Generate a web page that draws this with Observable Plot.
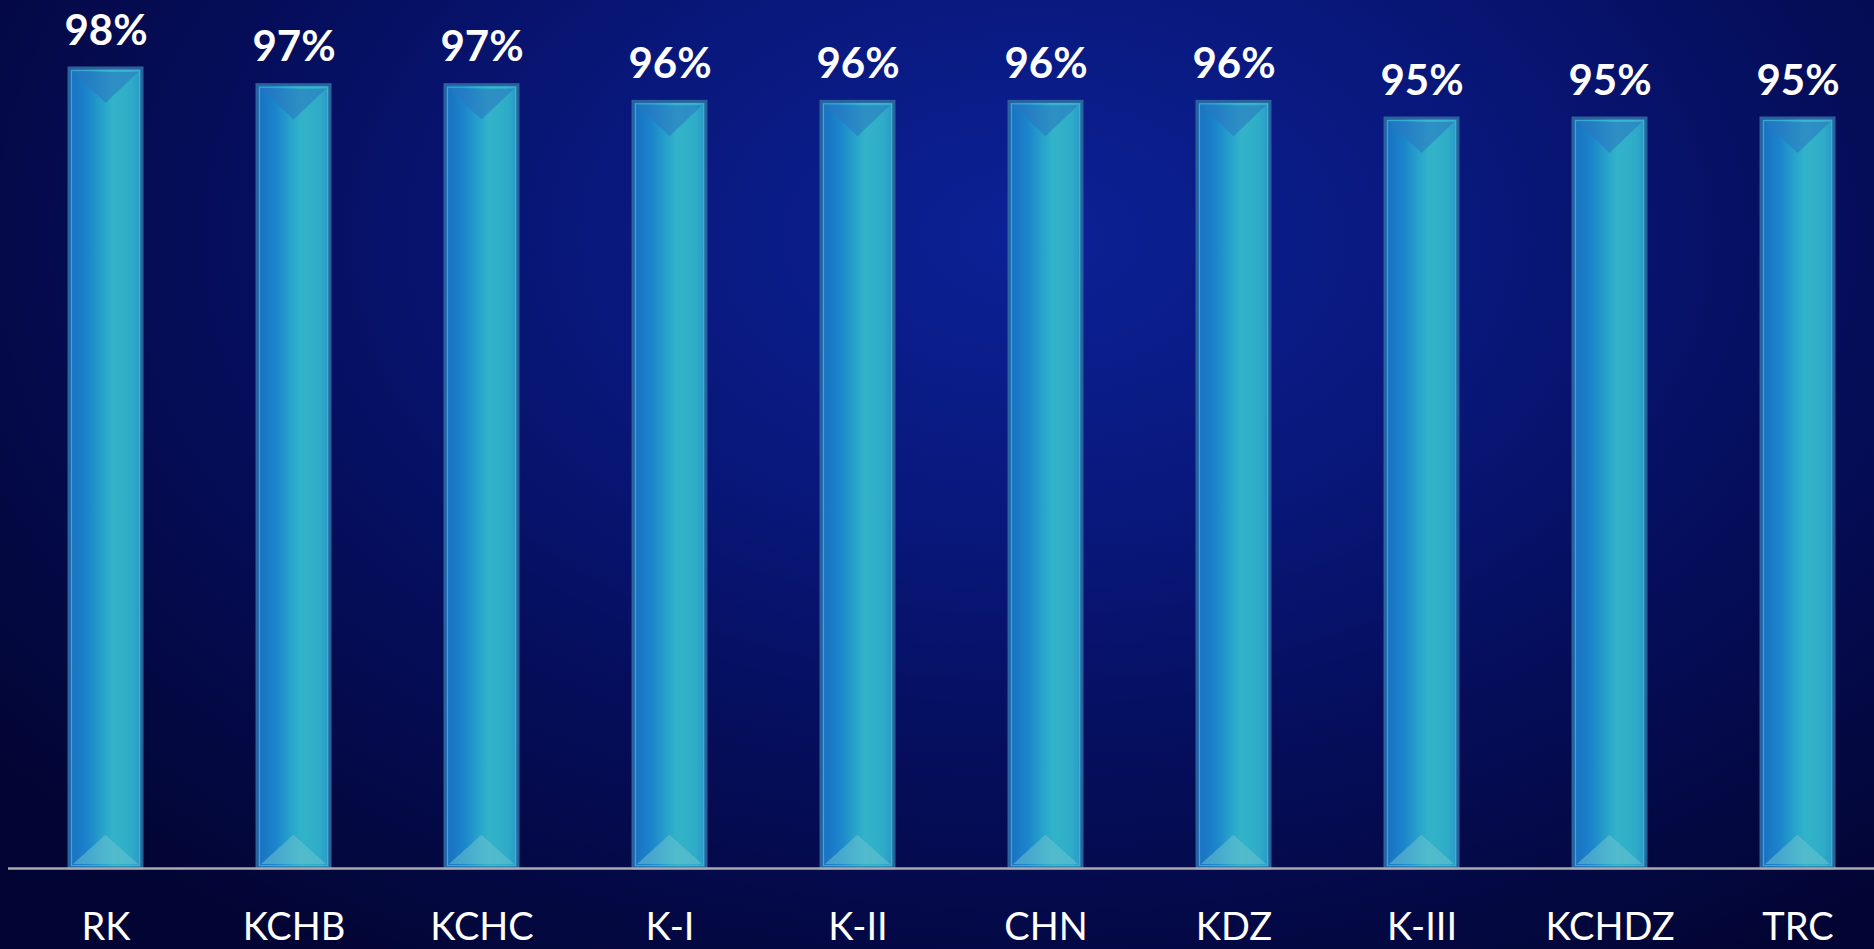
<!DOCTYPE html>
<html>
<head>
<meta charset="utf-8">
<script src="https://cdn.jsdelivr.net/npm/d3@7"></script>
<script src="https://cdn.jsdelivr.net/npm/@observablehq/plot@0.6"></script>
<style>
  html, body { margin: 0; padding: 0; background: #02052e; overflow: hidden; }
  #chart svg { display: block; }
</style>
</head>
<body>
<div id="chart"></div>
<script>
const categories = ["RK", "KCHB", "KCHC", "K-I", "K-II", "CHN", "KDZ", "K-III", "KCHDZ", "TRC"];
const values = [98, 97, 97, 96, 96, 96, 96, 95, 95, 95];
const labels = ["98%", "97%", "97%", "96%", "96%", "96%", "96%", "95%", "95%", "95%"];
const yBase = 50;
const yTop = 102.08;

const data = categories.map((c, i) => ({cat: c, value: values[i], label: labels[i]}));

const W = 1874, H = 949;
const plot = Plot.plot({
  width: W,
  height: H,
  marginTop: 0,
  marginBottom: 81,
  marginLeft: 8,
  marginRight: 0,
  style: {
    background: "radial-gradient(ellipse 70% 90% at 55% 25%, #0c2196 0%, #08177a 35%, #050d58 65%, #020533 100%)",
    fontFamily: "Lato, 'Open Sans', sans-serif",
    color: "white"
  },
  x: {type: "band", domain: categories, range: [30, W], paddingInner: 0.61, paddingOuter: 0.194, label: null},
  y: {domain: [yBase, yTop], axis: null},
  marks: [
    Plot.barY(data, {x: "cat", y1: () => yBase, y2: "value", fill: "url(#barGrad)", stroke: "#2a629c", strokeWidth: 3}),
    Plot.ruleY([yBase], {stroke: "#a9a9b0", strokeWidth: 2.5}),
    Plot.text(data, {x: "cat", y: "value", text: "label", lineAnchor: "bottom", dy: -24, fill: "white", fontSize: 42, fontWeight: "bold"}),
    Plot.axisX({tickSize: 0, tickPadding: 45, fontSize: 38, fill: "white", label: null})
  ]
});

// gradient definitions
const svg = d3.select(plot);
const defs = svg.insert("defs", ":first-child");
const g = defs.append("linearGradient").attr("id", "barGrad").attr("x1", "0").attr("x2", "1").attr("y1", "0").attr("y2", "0");
[["0%", "#1a6fbf"], ["25%", "#1b84cc"], ["50%", "#2aa8cb"], ["60%", "#33b3c9"], ["85%", "#2fadc8"], ["100%", "#2a95c6"]]
  .forEach(([o, c]) => g.append("stop").attr("offset", o).attr("stop-color", c));

// bevel decoration derived from rendered bars
svg.selectAll("g[aria-label=bar] rect").each(function() {
  const r = d3.select(this);
  const x = +r.attr("x"), y = +r.attr("y"), w = +r.attr("width"), h = +r.attr("height");
  const parent = d3.select(this.parentNode);
  const inset = 4;
  const x0 = x + inset, x1 = x + w - inset, y0 = y + inset, y1 = y + h - inset, half = (x1 - x0) / 2;
  parent.append("polygon")
    .attr("points", `${x0},${y0} ${x1},${y0} ${x0 + half},${y0 + half * 0.95}`)
    .attr("fill", "#2a78c0").attr("opacity", 0.6).attr("stroke", "none");
  parent.append("polygon")
    .attr("points", `${x0},${y1} ${x1},${y1} ${x0 + half},${y1 - half * 0.9}`)
    .attr("fill", "#6cc3cf").attr("opacity", 0.55).attr("stroke", "none");
  parent.append("rect")
    .attr("x", x + 2.5).attr("y", y + 2.5).attr("width", w - 5).attr("height", h - 5)
    .attr("fill", "none").attr("stroke", "#3fb6d6").attr("stroke-width", 1.2).attr("opacity", 0.8);
});

document.getElementById("chart").appendChild(plot);
</script>
</body>
</html>
